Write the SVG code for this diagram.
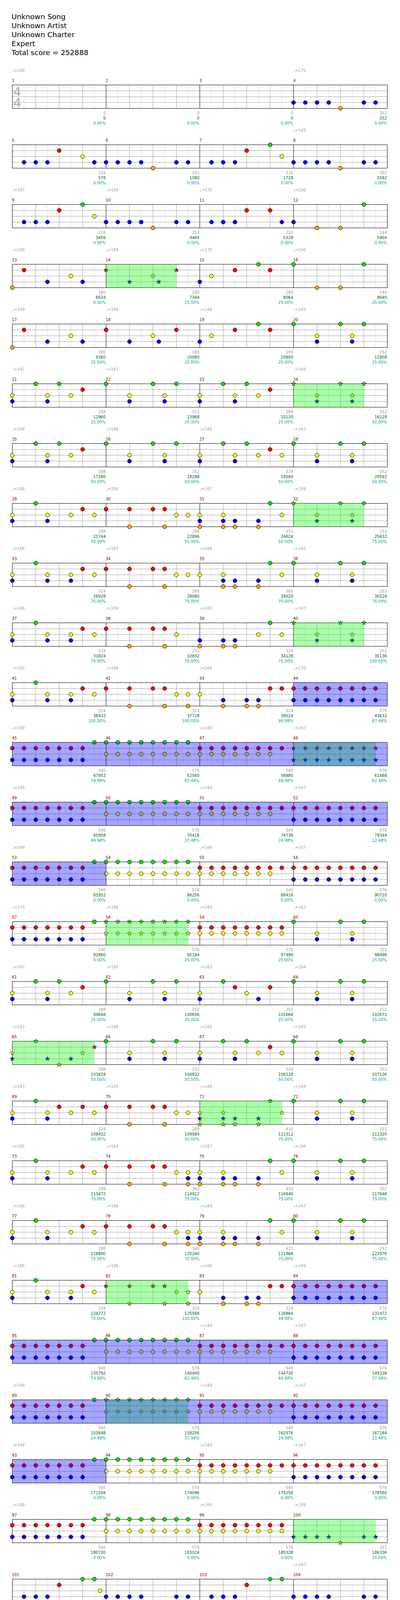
<svg xmlns="http://www.w3.org/2000/svg" width="1024" height="5419" viewBox="0 0 1024 5419">
<style>
text{font-family:"DejaVu Sans","Liberation Sans",sans-serif}
.hd{font-size:18.5px;fill:#000}
.tp{font-size:10px;fill:#a0a0a0}
.mn{font-size:10px;fill:#800000}
.s1,.s2,.s3{font-size:10px;text-anchor:end}
.s1{fill:#999}
.s2{fill:#006400}
.s3{fill:#009c9c}
.ts{font-size:32px;fill:#aaa}
.sp{fill:#00ff00;fill-opacity:.33}
.so{fill:#0000ff;fill-opacity:.35}
.su{fill:#ffff00}
</style>
<defs>
<path id="st" d="M0,-6L1.47,-2.02L5.71,-1.85L2.38,0.77L3.53,4.85L0,2.5L-3.53,4.85L-2.38,0.77L-5.71,-1.85L-1.47,-2.02Z" stroke="#000" stroke-width="0.8"/>
<g id="staff" fill="none">
<path stroke="#dcdcdc" d="M30,0V60M90,0V60M150,0V60M210,0V60M270,0V60M330,0V60M390,0V60M450,0V60M510,0V60M570,0V60M630,0V60M690,0V60M750,0V60M810,0V60M870,0V60M930,0V60"/>
<path stroke="#a0a0a0" d="M0,15H960M0,30H960M0,45H960M60,0V60M120,0V60M180,0V60M300,0V60M360,0V60M420,0V60M540,0V60M600,0V60M660,0V60M780,0V60M840,0V60M900,0V60"/>
<path stroke="#000" d="M240,0V60M480,0V60M720,0V60"/>
<rect width="960" height="60" stroke="#000"/>
</g>
<g id="staff1" fill="none">
<path stroke="#dcdcdc" d="M30,0V60M90,0V60M150,0V60M210,0V60"/>
<path stroke="#a0a0a0" d="M0,15H240M0,30H240M0,45H240M60,0V60M120,0V60M180,0V60"/>
<rect width="240" height="60" stroke="#000"/>
</g>
<g id="R8" fill="#f00" stroke="#000"><circle cx="0" cy="15" r="5"/><circle cx="30" cy="15" r="5"/><circle cx="60" cy="15" r="5"/><circle cx="90" cy="15" r="5"/><circle cx="120" cy="15" r="5"/><circle cx="150" cy="15" r="5"/><circle cx="180" cy="15" r="5"/><circle cx="210" cy="15" r="5"/></g>
<g id="R7" fill="#f00" stroke="#000"><circle cx="0" cy="15" r="5"/><circle cx="30" cy="15" r="5"/><circle cx="60" cy="15" r="5"/><circle cx="90" cy="15" r="5"/><circle cx="120" cy="15" r="5"/><circle cx="150" cy="15" r="5"/><circle cx="180" cy="15" r="5"/></g>
<g id="B8" fill="#00f" stroke="#000"><circle cx="0" cy="45" r="5"/><circle cx="30" cy="45" r="5"/><circle cx="60" cy="45" r="5"/><circle cx="90" cy="45" r="5"/><circle cx="120" cy="45" r="5"/><circle cx="150" cy="45" r="5"/><circle cx="180" cy="45" r="5"/><circle cx="210" cy="45" r="5"/></g>
<g id="B7" fill="#00f" stroke="#000"><circle cx="0" cy="45" r="5"/><circle cx="30" cy="45" r="5"/><circle cx="60" cy="45" r="5"/><circle cx="90" cy="45" r="5"/><circle cx="120" cy="45" r="5"/><circle cx="150" cy="45" r="5"/><circle cx="180" cy="45" r="5"/></g>
<g id="Y8" fill="#ff0" stroke="#000"><circle cx="0" cy="30" r="5"/><circle cx="30" cy="30" r="5"/><circle cx="60" cy="30" r="5"/><circle cx="90" cy="30" r="5"/><circle cx="120" cy="30" r="5"/><circle cx="150" cy="30" r="5"/><circle cx="180" cy="30" r="5"/><circle cx="210" cy="30" r="5"/></g>
<g id="Y7" fill="#ff0" stroke="#000"><circle cx="0" cy="30" r="5"/><circle cx="30" cy="30" r="5"/><circle cx="60" cy="30" r="5"/><circle cx="90" cy="30" r="5"/><circle cx="120" cy="30" r="5"/><circle cx="150" cy="30" r="5"/><circle cx="180" cy="30" r="5"/></g>
<g id="G8" fill="#00e000" stroke="#000"><circle cx="0" cy="0" r="5"/><circle cx="30" cy="0" r="5"/><circle cx="60" cy="0" r="5"/><circle cx="90" cy="0" r="5"/><circle cx="120" cy="0" r="5"/><circle cx="150" cy="0" r="5"/><circle cx="180" cy="0" r="5"/><circle cx="210" cy="0" r="5"/></g>
<g id="sR8" fill="#f00"><use href="#st" x="0" y="15"/><use href="#st" x="30" y="15"/><use href="#st" x="60" y="15"/><use href="#st" x="90" y="15"/><use href="#st" x="120" y="15"/><use href="#st" x="150" y="15"/><use href="#st" x="180" y="15"/><use href="#st" x="210" y="15"/></g>
<g id="sB8" fill="#00f"><use href="#st" x="0" y="45"/><use href="#st" x="30" y="45"/><use href="#st" x="60" y="45"/><use href="#st" x="90" y="45"/><use href="#st" x="120" y="45"/><use href="#st" x="150" y="45"/><use href="#st" x="180" y="45"/><use href="#st" x="210" y="45"/></g>
<g id="sG8" fill="#00e000"><use href="#st" x="0" y="0"/><use href="#st" x="30" y="0"/><use href="#st" x="60" y="0"/><use href="#st" x="90" y="0"/><use href="#st" x="120" y="0"/><use href="#st" x="150" y="0"/><use href="#st" x="180" y="0"/><use href="#st" x="210" y="0"/></g>
<g id="sY8" fill="#ff0"><use href="#st" x="0" y="30"/><use href="#st" x="30" y="30"/><use href="#st" x="60" y="30"/><use href="#st" x="90" y="30"/><use href="#st" x="120" y="30"/><use href="#st" x="150" y="30"/><use href="#st" x="180" y="30"/><use href="#st" x="210" y="30"/></g>
<g id="pN"><use href="#R8"/><use href="#B8"/></g>
<g id="pO"><use href="#R7"/><use href="#B7"/><circle cx="210" cy="0" r="5" fill="#00e000" stroke="#000"/></g>
<g id="pP"><use href="#G8"/><use href="#Y8"/></g>
<g id="pQ"><use href="#R8"/><use href="#Y7"/></g>
<g id="pR"><use href="#R8"/><use href="#Y8"/></g>
<g id="sN"><use href="#sR8"/><use href="#sB8"/></g>
<g id="sP"><use href="#sG8"/><use href="#sY8"/></g>
<g id="pA" stroke="#000"><g fill="#00f"><circle cx="0" cy="45" r="5"/><circle cx="30" cy="45" r="5"/><circle cx="60" cy="45" r="5"/><circle cx="90" cy="45" r="5"/><circle cx="180" cy="45" r="5"/><circle cx="210" cy="45" r="5"/></g><circle cx="120" cy="60" r="5" fill="#ffa500"/></g>
<g id="sA"><g fill="#00f"><use href="#st" x="0" y="45"/><use href="#st" x="30" y="45"/><use href="#st" x="60" y="45"/><use href="#st" x="90" y="45"/><use href="#st" x="180" y="45"/><use href="#st" x="210" y="45"/></g><use href="#st" x="120" y="60" fill="#ffa500"/></g>
<g id="p5" stroke="#000"><g fill="#00f"><circle cx="30" cy="45" r="5"/><circle cx="60" cy="45" r="5"/><circle cx="90" cy="45" r="5"/><circle cx="210" cy="45" r="5"/></g><circle cx="120" cy="15" r="5" fill="#f00"/><circle cx="180" cy="30" r="5" fill="#ff0"/></g>
<g id="pC" stroke="#000"><g fill="#00f"><circle cx="30" cy="45" r="5"/><circle cx="60" cy="45" r="5"/><circle cx="90" cy="45" r="5"/></g><circle cx="120" cy="15" r="5" fill="#f00"/><circle cx="180" cy="0" r="5" fill="#00e000"/><circle cx="210" cy="30" r="5" fill="#ff0"/></g>
<g id="p11" stroke="#000"><g fill="#00f"><circle cx="30" cy="45" r="5"/><circle cx="60" cy="45" r="5"/><circle cx="90" cy="45" r="5"/><circle cx="210" cy="45" r="5"/></g><g fill="#f00"><circle cx="120" cy="15" r="5"/><circle cx="180" cy="15" r="5"/></g></g>
<g id="p12" stroke="#000"><circle cx="0" cy="45" r="5" fill="#00f"/><g fill="#ffa500"><circle cx="60" cy="60" r="5"/><circle cx="120" cy="60" r="5"/></g><circle cx="180" cy="0" r="5" fill="#00e000"/></g>
<g id="p16" stroke="#000"><g fill="#00e000"><circle cx="0" cy="0" r="5"/><circle cx="180" cy="0" r="5"/></g><g fill="#ffa500"><circle cx="60" cy="60" r="5"/><circle cx="120" cy="60" r="5"/></g></g>
<g id="pE" stroke="#000"><circle cx="0" cy="60" r="5" fill="#ffa500"/><circle cx="30" cy="15" r="5" fill="#f00"/><g fill="#00f"><circle cx="90" cy="45" r="5"/><circle cx="180" cy="45" r="5"/></g><circle cx="150" cy="30" r="5" fill="#ff0"/></g>
<g id="sE"><use href="#st" x="0" y="60" fill="#ffa500"/><use href="#st" x="30" y="15" fill="#f00"/><g fill="#00f"><use href="#st" x="90" y="45"/><use href="#st" x="180" y="45"/></g><use href="#st" x="150" y="30" fill="#ff0"/></g>
<g id="pF" stroke="#000"><g fill="#f00"><circle cx="0" cy="15" r="5"/><circle cx="180" cy="15" r="5"/></g><g fill="#00f"><circle cx="60" cy="45" r="5"/><circle cx="135" cy="45" r="5"/></g><circle cx="120" cy="30" r="5" fill="#ff0"/></g>
<g id="sF"><g fill="#f00"><use href="#st" x="0" y="15"/><use href="#st" x="180" y="15"/></g><g fill="#00f"><use href="#st" x="60" y="45"/><use href="#st" x="135" y="45"/></g><use href="#st" x="120" y="30" fill="#ff0"/></g>
<g id="pG" stroke="#000"><circle cx="0" cy="45" r="5" fill="#00f"/><circle cx="30" cy="30" r="5" fill="#ff0"/><g fill="#f00"><circle cx="90" cy="15" r="5"/><circle cx="180" cy="15" r="5"/></g><circle cx="150" cy="0" r="5" fill="#00e000"/></g>
<g id="pH" stroke="#000"><g fill="#00e000"><circle cx="0" cy="0" r="5"/><circle cx="120" cy="0" r="5"/><circle cx="180" cy="0" r="5"/></g><g fill="#ff0"><circle cx="60" cy="30" r="5"/><circle cx="150" cy="30" r="5"/></g><g fill="#00f"><circle cx="60" cy="45" r="5"/><circle cx="150" cy="45" r="5"/></g></g>
<g id="sH"><g fill="#00e000"><use href="#st" x="0" y="0"/><use href="#st" x="120" y="0"/><use href="#st" x="180" y="0"/></g><g fill="#ff0"><use href="#st" x="60" y="30"/><use href="#st" x="150" y="30"/></g><g fill="#00f"><use href="#st" x="60" y="45"/><use href="#st" x="150" y="45"/></g></g>
<g id="pI" stroke="#000"><g fill="#ff0"><circle cx="0" cy="30" r="5"/><circle cx="90" cy="30" r="5"/><circle cx="150" cy="30" r="5"/></g><g fill="#00f"><circle cx="0" cy="45" r="5"/><circle cx="90" cy="45" r="5"/></g><g fill="#00e000"><circle cx="60" cy="0" r="5"/><circle cx="120" cy="0" r="5"/></g><circle cx="180" cy="15" r="5" fill="#f00"/></g>
<g id="pJ"><use href="#pI"/><circle cx="210" cy="30" r="5" fill="#ff0" stroke="#000"/></g>
<g id="pK" stroke="#000"><circle cx="60" cy="0" r="5" fill="#00e000"/><circle cx="180" cy="15" r="5" fill="#f00"/><g fill="#ff0"><circle cx="0" cy="30" r="5"/><circle cx="90" cy="30" r="5"/><circle cx="150" cy="30" r="5"/><circle cx="210" cy="30" r="5"/></g><g fill="#00f"><circle cx="0" cy="45" r="5"/><circle cx="90" cy="45" r="5"/></g></g>
<g id="p69"><use href="#pK"/><circle cx="120" cy="15" r="5" fill="#f00" stroke="#000"/></g>
<g id="pK2"><use href="#pK"/><circle cx="150" cy="45" r="5" fill="#00f" stroke="#000"/></g>
<g id="p38" stroke="#000"><g fill="#f00"><circle cx="0" cy="15" r="5"/><circle cx="60" cy="15" r="5"/><circle cx="120" cy="15" r="5"/><circle cx="150" cy="15" r="5"/></g><circle cx="180" cy="30" r="5" fill="#ff0"/><g fill="#ffa500"><circle cx="60" cy="60" r="5"/><circle cx="150" cy="60" r="5"/></g></g>
<g id="pL"><use href="#p38"/><circle cx="210" cy="30" r="5" fill="#ff0" stroke="#000"/></g>
<g id="pL2"><use href="#pL"/><circle cx="210" cy="60" r="5" fill="#ffa500" stroke="#000"/></g>
<g id="pL3"><use href="#pL2"/><circle cx="210" cy="45" r="5" fill="#00f" stroke="#000"/></g>
<g id="sL2"><g fill="#f00"><use href="#st" x="0" y="15"/><use href="#st" x="60" y="15"/><use href="#st" x="120" y="15"/><use href="#st" x="150" y="15"/></g><g fill="#ff0"><use href="#st" x="180" y="30"/><use href="#st" x="210" y="30"/></g><g fill="#ffa500"><use href="#st" x="60" y="60"/><use href="#st" x="150" y="60"/><use href="#st" x="210" y="60"/></g></g>
<g id="p35" stroke="#000"><g fill="#ff0"><circle cx="0" cy="30" r="5"/><circle cx="60" cy="30" r="5"/><circle cx="210" cy="30" r="5"/></g><g fill="#00f"><circle cx="60" cy="45" r="5"/><circle cx="90" cy="45" r="5"/><circle cx="150" cy="45" r="5"/></g><g fill="#ffa500"><circle cx="60" cy="60" r="5"/><circle cx="90" cy="60" r="5"/><circle cx="150" cy="60" r="5"/></g><circle cx="180" cy="0" r="5" fill="#00e000"/></g>
<g id="pM"><use href="#p35"/><circle cx="0" cy="45" r="5" fill="#00f" stroke="#000"/><circle cx="0" cy="60" r="5" fill="#ffa500" stroke="#000"/></g>
<g id="sM"><g fill="#ff0"><use href="#st" x="0" y="30"/><use href="#st" x="60" y="30"/><use href="#st" x="210" y="30"/></g><g fill="#00f"><use href="#st" x="0" y="45"/><use href="#st" x="60" y="45"/><use href="#st" x="90" y="45"/><use href="#st" x="150" y="45"/></g><g fill="#ffa500"><use href="#st" x="0" y="60"/><use href="#st" x="60" y="60"/><use href="#st" x="90" y="60"/><use href="#st" x="150" y="60"/></g><use href="#st" x="180" y="0" fill="#00e000"/></g>
<g id="p39" stroke="#000"><g fill="#00f"><circle cx="0" cy="45" r="5"/><circle cx="60" cy="45" r="5"/><circle cx="90" cy="45" r="5"/></g><g fill="#ffa500"><circle cx="0" cy="60" r="5"/><circle cx="60" cy="60" r="5"/><circle cx="90" cy="60" r="5"/></g><g fill="#ff0"><circle cx="150" cy="30" r="5"/><circle cx="210" cy="30" r="5"/></g><circle cx="180" cy="0" r="5" fill="#00e000"/></g>
<g id="p43" stroke="#000"><circle cx="0" cy="30" r="5" fill="#ff0"/><g fill="#00f"><circle cx="60" cy="45" r="5"/><circle cx="120" cy="45" r="5"/><circle cx="150" cy="45" r="5"/></g><g fill="#ffa500"><circle cx="60" cy="60" r="5"/><circle cx="120" cy="60" r="5"/><circle cx="150" cy="60" r="5"/></g><g fill="#f00"><circle cx="180" cy="15" r="5"/><circle cx="210" cy="15" r="5"/></g></g>
<g id="p63" stroke="#000"><circle cx="60" cy="0" r="5" fill="#00e000"/><g fill="#f00"><circle cx="90" cy="15" r="5"/><circle cx="180" cy="15" r="5"/></g><g fill="#ff0"><circle cx="0" cy="30" r="5"/><circle cx="120" cy="30" r="5"/></g><g fill="#00f"><circle cx="0" cy="45" r="5"/><circle cx="150" cy="45" r="5"/></g></g>
<g id="s65"><use href="#st" x="60" y="0" fill="#00e000"/><g fill="#ff0"><use href="#st" x="0" y="30"/><use href="#st" x="180" y="30"/></g><g fill="#00f"><use href="#st" x="0" y="45"/><use href="#st" x="90" y="45"/><use href="#st" x="150" y="45"/></g><use href="#st" x="120" y="60" fill="#ffa500"/><use href="#st" x="210" y="15" fill="#f00"/></g>
<g id="p103" stroke="#000"><g fill="#00f"><circle cx="30" cy="45" r="5"/><circle cx="60" cy="45" r="5"/><circle cx="90" cy="45" r="5"/></g><circle cx="120" cy="15" r="5" fill="#f00"/><g fill="#00e000"><circle cx="180" cy="0" r="5"/><circle cx="210" cy="0" r="5"/></g></g>
<g id="p101"><use href="#p103"/><circle cx="225" cy="30" r="5" fill="#ff0" stroke="#000"/></g>
<g id="p107" stroke="#000"><g fill="#00f"><circle cx="30" cy="45" r="5"/><circle cx="60" cy="45" r="5"/><circle cx="90" cy="45" r="5"/><circle cx="210" cy="45" r="5"/></g><circle cx="120" cy="15" r="5" fill="#f00"/><circle cx="180" cy="0" r="5" fill="#00e000"/></g>
</defs>
<rect width="1024" height="5419" fill="#fff"/>
<g id="header">
<text class="hd" x="29.5" y="49">Unknown Song</text>
<text class="hd" x="29.5" y="72">Unknown Artist</text>
<text class="hd" x="29.5" y="95">Unknown Charter</text>
<text class="hd" x="29.5" y="118">Expert</text>
<text class="hd" x="29.5" y="141">Total score = 252888</text>
</g>
<g id="row1" transform="translate(0,217.5)">
<use href="#staff" x="31.5"/>
<text class="ts"><tspan x="34" y="28">4</tspan><tspan x="34" y="56.5">4</tspan></text>
<use href="#pA" x="751.5"/>
<text class="tp" x="31" y="-34">♩=168</text><text class="tp" x="751" y="-34">♩=170</text>
<text class="mn" x="30.5" y="-8">1</text><text class="mn" x="270.5" y="-8">2</text><text class="mn" x="510.5" y="-8">3</text><text class="mn" x="750.5" y="-8">4</text>
<text class="s1" x="270.5" y="75">0</text><text class="s2" x="270.5" y="88">0</text><text class="s3" x="270.5" y="101">0.00%</text>
<text class="s1" x="510.5" y="75">0</text><text class="s2" x="510.5" y="88">0</text><text class="s3" x="510.5" y="101">0.00%</text>
<text class="s1" x="750.5" y="75">0</text><text class="s2" x="750.5" y="88">0</text><text class="s3" x="750.5" y="101">0.00%</text>
<text class="s1" x="990.5" y="75">252</text><text class="s2" x="990.5" y="88">252</text><text class="s3" x="990.5" y="101">0.00%</text>
</g>
<g id="row2" transform="translate(0,370.5)">
<use href="#staff" x="31.5"/>
<use href="#p5" x="31.5"/><use href="#pA" x="271.5"/><use href="#pC" x="511.5"/><use href="#pA" x="751.5"/>
<text class="tp" x="751" y="-34">♩=165</text>
<text class="mn" x="30.5" y="-8">5</text><text class="mn" x="270.5" y="-8">6</text><text class="mn" x="510.5" y="-8">7</text><text class="mn" x="750.5" y="-8">8</text>
<text class="s1" x="270.5" y="75">216</text><text class="s2" x="270.5" y="88">576</text><text class="s3" x="270.5" y="101">0.00%</text>
<text class="s1" x="510.5" y="75">252</text><text class="s2" x="510.5" y="88">1080</text><text class="s3" x="510.5" y="101">0.00%</text>
<text class="s1" x="750.5" y="75">216</text><text class="s2" x="750.5" y="88">1728</text><text class="s3" x="750.5" y="101">0.00%</text>
<text class="s1" x="990.5" y="75">252</text><text class="s2" x="990.5" y="88">2592</text><text class="s3" x="990.5" y="101">0.00%</text>
</g>
<g id="row3" transform="translate(0,523.5)">
<use href="#staff" x="31.5"/>
<use href="#pC" x="31.5"/><use href="#pA" x="271.5"/><use href="#p11" x="511.5"/><use href="#p12" x="751.5"/>
<text class="tp" x="31" y="-34">♩=167</text><text class="tp" x="271" y="-34">♩=169</text><text class="tp" x="511" y="-34">♩=170</text><text class="tp" x="751" y="-34">♩=168</text>
<text class="mn" x="30.5" y="-8">9</text><text class="mn" x="270.5" y="-8">10</text><text class="mn" x="510.5" y="-8">11</text><text class="mn" x="750.5" y="-8">12</text>
<text class="s1" x="270.5" y="75">216</text><text class="s2" x="270.5" y="88">3456</text><text class="s3" x="270.5" y="101">0.00%</text>
<text class="s1" x="510.5" y="75">252</text><text class="s2" x="510.5" y="88">4464</text><text class="s3" x="510.5" y="101">0.00%</text>
<text class="s1" x="750.5" y="75">216</text><text class="s2" x="750.5" y="88">5328</text><text class="s3" x="750.5" y="101">0.00%</text>
<text class="s1" x="990.5" y="75">144</text><text class="s2" x="990.5" y="88">5904</text><text class="s3" x="990.5" y="101">0.00%</text>
</g>
<g id="row4" transform="translate(0,676.5)">
<use href="#staff" x="31.5"/>
<use href="#pE" x="31.5"/><use href="#sF" x="271.5"/><use href="#pG" x="511.5"/><use href="#p16" x="751.5"/>
<rect class="sp" x="271.5" width="180" height="60"/>
<text class="tp" x="31" y="-34">♩=169</text><text class="tp" x="271" y="-34">♩=169</text><text class="tp" x="511" y="-34">♩=170</text><text class="tp" x="751" y="-34">♩=166</text>
<text class="mn" x="30.5" y="-8">13</text><text class="mn" x="270.5" y="-8">14</text><text class="mn" x="510.5" y="-8">15</text><text class="mn" x="750.5" y="-8">16</text>
<text class="s1" x="270.5" y="75">180</text><text class="s2" x="270.5" y="88">6624</text><text class="s3" x="270.5" y="101">0.00%</text>
<text class="s1" x="510.5" y="75">180</text><text class="s2" x="510.5" y="88">7344</text><text class="s3" x="510.5" y="101">25.00%</text>
<text class="s1" x="750.5" y="75">180</text><text class="s2" x="750.5" y="88">8064</text><text class="s3" x="750.5" y="101">25.00%</text>
<text class="s1" x="990.5" y="75">144</text><text class="s2" x="990.5" y="88">8640</text><text class="s3" x="990.5" y="101">25.00%</text>
</g>
<g id="row5" transform="translate(0,829.5)">
<use href="#staff" x="31.5"/>
<use href="#pE" x="31.5"/><use href="#pF" x="271.5"/><use href="#pG" x="511.5"/><use href="#pH" x="751.5"/>
<text class="tp" x="31" y="-34">♩=169</text><text class="tp" x="271" y="-34">♩=169</text><text class="tp" x="511" y="-34">♩=166</text><text class="tp" x="751" y="-34">♩=165</text>
<text class="mn" x="30.5" y="-8">17</text><text class="mn" x="270.5" y="-8">18</text><text class="mn" x="510.5" y="-8">19</text><text class="mn" x="750.5" y="-8">20</text>
<text class="s1" x="270.5" y="75">180</text><text class="s2" x="270.5" y="88">9360</text><text class="s3" x="270.5" y="101">25.00%</text>
<text class="s1" x="510.5" y="75">180</text><text class="s2" x="510.5" y="88">10080</text><text class="s3" x="510.5" y="101">25.00%</text>
<text class="s1" x="750.5" y="75">180</text><text class="s2" x="750.5" y="88">10800</text><text class="s3" x="750.5" y="101">25.00%</text>
<text class="s1" x="990.5" y="75">252</text><text class="s2" x="990.5" y="88">11808</text><text class="s3" x="990.5" y="101">25.00%</text>
</g>
<g id="row6" transform="translate(0,982.5)">
<use href="#staff" x="31.5"/>
<use href="#pI" x="31.5"/><use href="#pH" x="271.5"/><use href="#pI" x="511.5"/><use href="#sH" x="751.5"/>
<rect class="sp" x="751.5" width="180" height="60"/>
<text class="tp" x="31" y="-34">♩=167</text><text class="tp" x="271" y="-34">♩=167</text><text class="tp" x="751" y="-34">♩=166</text>
<text class="mn" x="30.5" y="-8">21</text><text class="mn" x="270.5" y="-8">22</text><text class="mn" x="510.5" y="-8">23</text><text class="mn" x="750.5" y="-8">24</text>
<text class="s1" x="270.5" y="75">288</text><text class="s2" x="270.5" y="88">12960</text><text class="s3" x="270.5" y="101">25.00%</text>
<text class="s1" x="510.5" y="75">252</text><text class="s2" x="510.5" y="88">13968</text><text class="s3" x="510.5" y="101">25.00%</text>
<text class="s1" x="750.5" y="75">288</text><text class="s2" x="750.5" y="88">15120</text><text class="s3" x="750.5" y="101">25.00%</text>
<text class="s1" x="990.5" y="75">252</text><text class="s2" x="990.5" y="88">16128</text><text class="s3" x="990.5" y="101">50.00%</text>
</g>
<g id="row7" transform="translate(0,1135.5)">
<use href="#staff" x="31.5"/>
<use href="#pI" x="31.5"/><use href="#pH" x="271.5"/><use href="#pJ" x="511.5"/><use href="#pH" x="751.5"/>
<text class="tp" x="31" y="-34">♩=168</text><text class="tp" x="271" y="-34">♩=166</text><text class="tp" x="511" y="-34">♩=166</text><text class="tp" x="751" y="-34">♩=163</text>
<text class="mn" x="30.5" y="-8">25</text><text class="mn" x="270.5" y="-8">26</text><text class="mn" x="510.5" y="-8">27</text><text class="mn" x="750.5" y="-8">28</text>
<text class="s1" x="270.5" y="75">288</text><text class="s2" x="270.5" y="88">17280</text><text class="s3" x="270.5" y="101">50.00%</text>
<text class="s1" x="510.5" y="75">252</text><text class="s2" x="510.5" y="88">18288</text><text class="s3" x="510.5" y="101">50.00%</text>
<text class="s1" x="750.5" y="75">324</text><text class="s2" x="750.5" y="88">19584</text><text class="s3" x="750.5" y="101">50.00%</text>
<text class="s1" x="990.5" y="75">252</text><text class="s2" x="990.5" y="88">20592</text><text class="s3" x="990.5" y="101">50.00%</text>
</g>
<g id="row8" transform="translate(0,1288.5)">
<use href="#staff" x="31.5"/>
<use href="#pK" x="31.5"/><use href="#pL" x="271.5"/><use href="#pM" x="511.5"/><use href="#sH" x="751.5"/>
<rect class="sp" x="751.5" width="180" height="60"/>
<text class="tp" x="31" y="-34">♩=166</text><text class="tp" x="271" y="-34">♩=164</text><text class="tp" x="511" y="-34">♩=167</text><text class="tp" x="751" y="-34">♩=169</text>
<text class="mn" x="30.5" y="-8">29</text><text class="mn" x="270.5" y="-8">30</text><text class="mn" x="510.5" y="-8">31</text><text class="mn" x="750.5" y="-8">32</text>
<text class="s1" x="270.5" y="75">288</text><text class="s2" x="270.5" y="88">21744</text><text class="s3" x="270.5" y="101">50.00%</text>
<text class="s1" x="510.5" y="75">288</text><text class="s2" x="510.5" y="88">22896</text><text class="s3" x="510.5" y="101">50.00%</text>
<text class="s1" x="750.5" y="75">432</text><text class="s2" x="750.5" y="88">24624</text><text class="s3" x="750.5" y="101">50.00%</text>
<text class="s1" x="990.5" y="75">252</text><text class="s2" x="990.5" y="88">25632</text><text class="s3" x="990.5" y="101">75.00%</text>
</g>
<g id="row9" transform="translate(0,1441.5)">
<use href="#staff" x="31.5"/>
<use href="#pK2" x="31.5"/><use href="#pL" x="271.5"/><use href="#p35" x="511.5"/><use href="#pH" x="751.5"/>
<text class="tp" x="31" y="-34">♩=166</text><text class="tp" x="271" y="-34">♩=167</text><text class="tp" x="511" y="-34">♩=166</text><text class="tp" x="751" y="-34">♩=165</text>
<text class="mn" x="30.5" y="-8">33</text><text class="mn" x="270.5" y="-8">34</text><text class="mn" x="510.5" y="-8">35</text><text class="mn" x="750.5" y="-8">36</text>
<text class="s1" x="270.5" y="75">324</text><text class="s2" x="270.5" y="88">26928</text><text class="s3" x="270.5" y="101">75.00%</text>
<text class="s1" x="510.5" y="75">288</text><text class="s2" x="510.5" y="88">28080</text><text class="s3" x="510.5" y="101">75.00%</text>
<text class="s1" x="750.5" y="75">360</text><text class="s2" x="750.5" y="88">29520</text><text class="s3" x="750.5" y="101">75.00%</text>
<text class="s1" x="990.5" y="75">252</text><text class="s2" x="990.5" y="88">30528</text><text class="s3" x="990.5" y="101">75.00%</text>
</g>
<g id="row10" transform="translate(0,1594.5)">
<use href="#staff" x="31.5"/>
<use href="#pK2" x="31.5"/><use href="#p38" x="271.5"/><use href="#p39" x="511.5"/><use href="#sH" x="751.5"/>
<rect class="sp" x="751.5" width="180" height="60"/>
<text class="tp" x="31" y="-34">♩=166</text><text class="tp" x="271" y="-34">♩=169</text><text class="tp" x="511" y="-34">♩=165</text><text class="tp" x="751" y="-34">♩=167</text>
<text class="mn" x="30.5" y="-8">37</text><text class="mn" x="270.5" y="-8">38</text><text class="mn" x="510.5" y="-8">39</text><text class="mn" x="750.5" y="-8">40</text>
<text class="s1" x="270.5" y="75">324</text><text class="s2" x="270.5" y="88">31824</text><text class="s3" x="270.5" y="101">75.00%</text>
<text class="s1" x="510.5" y="75">252</text><text class="s2" x="510.5" y="88">32832</text><text class="s3" x="510.5" y="101">75.00%</text>
<text class="s1" x="750.5" y="75">324</text><text class="s2" x="750.5" y="88">34128</text><text class="s3" x="750.5" y="101">75.00%</text>
<text class="s1" x="990.5" y="75">252</text><text class="s2" x="990.5" y="88">35136</text><text class="s3" x="990.5" y="101">100.00%</text>
</g>
<g id="row11" transform="translate(0,1747.5)">
<use href="#staff" x="31.5"/>
<use href="#pK2" x="31.5"/><use href="#pL2" x="271.5"/><use href="#p43" x="511.5"/><use href="#pN" x="751.5"/>
<rect class="so" x="751.5" width="240" height="60"/>
<text class="tp" x="31" y="-34">♩=165</text><text class="tp" x="271" y="-34">♩=166</text><text class="tp" x="511" y="-34">♩=166</text><text class="tp" x="751" y="-34">♩=170</text>
<text class="mn" x="30.5" y="-8">41</text><text class="mn" x="270.5" y="-8">42</text><text class="mn" x="510.5" y="-8">43</text><text class="mn" x="750.5" y="-8">44</text>
<text class="s1" x="270.5" y="75">324</text><text class="s2" x="270.5" y="88">36432</text><text class="s3" x="270.5" y="101">100.00%</text>
<text class="s1" x="510.5" y="75">324</text><text class="s2" x="510.5" y="88">37728</text><text class="s3" x="510.5" y="101">100.00%</text>
<text class="s1" x="750.5" y="75">324</text><text class="s2" x="750.5" y="88">39024</text><text class="s3" x="750.5" y="101">99.98%</text>
<text class="s1" x="990.5" y="75">576</text><text class="s2" x="990.5" y="88">43632</text><text class="s3" x="990.5" y="101">87.48%</text>
</g>
<g id="row12" transform="translate(0,1900.5)">
<use href="#staff" x="31.5"/>
<use href="#pO" x="31.5"/><use href="#pP" x="271.5"/><use href="#pQ" x="511.5"/><use href="#sN" x="751.5"/>
<rect class="sp" x="751.5" width="210" height="60"/>
<rect class="so" x="31.5" width="960" height="60"/>
<text class="tp" x="31" y="-34">♩=169</text><text class="tp" x="511" y="-34">♩=169</text><text class="tp" x="751" y="-34">♩=167</text>
<text class="mn" x="30.5" y="-8">45</text><text class="mn" x="270.5" y="-8">46</text><text class="mn" x="510.5" y="-8">47</text><text class="mn" x="750.5" y="-8">48</text>
<text class="s1" x="270.5" y="75">540</text><text class="s2" x="270.5" y="88">47952</text><text class="s3" x="270.5" y="101">74.98%</text>
<text class="s1" x="510.5" y="75">576</text><text class="s2" x="510.5" y="88">52560</text><text class="s3" x="510.5" y="101">62.48%</text>
<text class="s1" x="750.5" y="75">540</text><text class="s2" x="750.5" y="88">56880</text><text class="s3" x="750.5" y="101">49.98%</text>
<text class="s1" x="990.5" y="75">576</text><text class="s2" x="990.5" y="88">61488</text><text class="s3" x="990.5" y="101">62.48%</text>
</g>
<g id="row13" transform="translate(0,2053.5)">
<use href="#staff" x="31.5"/>
<use href="#pO" x="31.5"/><use href="#pP" x="271.5"/><use href="#pQ" x="511.5"/><use href="#pN" x="751.5"/>
<rect class="so" x="31.5" width="960" height="60"/>
<text class="tp" x="31" y="-34">♩=169</text><text class="tp" x="511" y="-34">♩=169</text><text class="tp" x="751" y="-34">♩=167</text>
<text class="mn" x="30.5" y="-8">49</text><text class="mn" x="270.5" y="-8">50</text><text class="mn" x="510.5" y="-8">51</text><text class="mn" x="750.5" y="-8">52</text>
<text class="s1" x="270.5" y="75">540</text><text class="s2" x="270.5" y="88">65808</text><text class="s3" x="270.5" y="101">49.98%</text>
<text class="s1" x="510.5" y="75">576</text><text class="s2" x="510.5" y="88">70416</text><text class="s3" x="510.5" y="101">37.48%</text>
<text class="s1" x="750.5" y="75">540</text><text class="s2" x="750.5" y="88">74736</text><text class="s3" x="750.5" y="101">24.98%</text>
<text class="s1" x="990.5" y="75">576</text><text class="s2" x="990.5" y="88">79344</text><text class="s3" x="990.5" y="101">12.48%</text>
</g>
<g id="row14" transform="translate(0,2206.5)">
<use href="#staff" x="31.5"/>
<use href="#pO" x="31.5"/><use href="#pP" x="271.5"/><use href="#pQ" x="511.5"/><use href="#pN" x="751.5"/>
<rect class="so" x="31.5" width="240" height="60"/>
<text class="tp" x="31" y="-34">♩=169</text><text class="tp" x="511" y="-34">♩=169</text><text class="tp" x="751" y="-34">♩=167</text>
<text class="mn" x="30.5" y="-8">53</text><text class="mn" x="270.5" y="-8">54</text><text class="mn" x="510.5" y="-8">55</text><text class="mn" x="750.5" y="-8">56</text>
<text class="s1" x="270.5" y="75">540</text><text class="s2" x="270.5" y="88">83952</text><text class="s3" x="270.5" y="101">0.00%</text>
<text class="s1" x="510.5" y="75">576</text><text class="s2" x="510.5" y="88">86256</text><text class="s3" x="510.5" y="101">0.00%</text>
<text class="s1" x="750.5" y="75">540</text><text class="s2" x="750.5" y="88">88416</text><text class="s3" x="750.5" y="101">0.00%</text>
<text class="s1" x="990.5" y="75">576</text><text class="s2" x="990.5" y="88">90720</text><text class="s3" x="990.5" y="101">0.00%</text>
</g>
<g id="row15" transform="translate(0,2359.5)">
<use href="#staff" x="31.5"/>
<use href="#pO" x="31.5"/><use href="#sP" x="271.5"/><use href="#pR" x="511.5"/><use href="#pH" x="751.5"/>
<rect class="sp" x="271.5" width="210" height="60"/>
<text class="tp" x="31" y="-34">♩=170</text><text class="tp" x="271" y="-34">♩=166</text><text class="tp" x="511" y="-34">♩=169</text><text class="tp" x="751" y="-34">♩=162</text>
<text class="mn" x="30.5" y="-8">57</text><text class="mn" x="270.5" y="-8">58</text><text class="mn" x="510.5" y="-8">59</text><text class="mn" x="750.5" y="-8">60</text>
<text class="s1" x="270.5" y="75">540</text><text class="s2" x="270.5" y="88">92880</text><text class="s3" x="270.5" y="101">0.00%</text>
<text class="s1" x="510.5" y="75">576</text><text class="s2" x="510.5" y="88">95184</text><text class="s3" x="510.5" y="101">25.00%</text>
<text class="s1" x="750.5" y="75">576</text><text class="s2" x="750.5" y="88">97488</text><text class="s3" x="750.5" y="101">25.00%</text>
<text class="s1" x="990.5" y="75">252</text><text class="s2" x="990.5" y="88">98496</text><text class="s3" x="990.5" y="101">25.00%</text>
</g>
<g id="row16" transform="translate(0,2512.5)">
<use href="#staff" x="31.5"/>
<use href="#pI" x="31.5"/><use href="#pH" x="271.5"/><use href="#p63" x="511.5"/><use href="#pH" x="751.5"/>
<text class="tp" x="31" y="-34">♩=162</text><text class="tp" x="271" y="-34">♩=165</text><text class="tp" x="511" y="-34">♩=163</text><text class="tp" x="751" y="-34">♩=164</text>
<text class="mn" x="30.5" y="-8">61</text><text class="mn" x="270.5" y="-8">62</text><text class="mn" x="510.5" y="-8">63</text><text class="mn" x="750.5" y="-8">64</text>
<text class="s1" x="270.5" y="75">288</text><text class="s2" x="270.5" y="88">99648</text><text class="s3" x="270.5" y="101">25.00%</text>
<text class="s1" x="510.5" y="75">252</text><text class="s2" x="510.5" y="88">100656</text><text class="s3" x="510.5" y="101">25.00%</text>
<text class="s1" x="750.5" y="75">252</text><text class="s2" x="750.5" y="88">101664</text><text class="s3" x="750.5" y="101">25.00%</text>
<text class="s1" x="990.5" y="75">252</text><text class="s2" x="990.5" y="88">102672</text><text class="s3" x="990.5" y="101">25.00%</text>
</g>
<g id="row17" transform="translate(0,2665.5)">
<use href="#staff" x="31.5"/>
<use href="#s65" x="31.5"/><use href="#pH" x="271.5"/><use href="#pJ" x="511.5"/><use href="#pH" x="751.5"/>
<rect class="sp" x="31.5" width="210" height="60"/>
<text class="tp" x="31" y="-34">♩=163</text><text class="tp" x="271" y="-34">♩=166</text><text class="tp" x="511" y="-34">♩=165</text><text class="tp" x="751" y="-34">♩=163</text>
<text class="mn" x="30.5" y="-8">65</text><text class="mn" x="270.5" y="-8">66</text><text class="mn" x="510.5" y="-8">67</text><text class="mn" x="750.5" y="-8">68</text>
<text class="s1" x="270.5" y="75">288</text><text class="s2" x="270.5" y="88">103824</text><text class="s3" x="270.5" y="101">50.00%</text>
<text class="s1" x="510.5" y="75">252</text><text class="s2" x="510.5" y="88">104832</text><text class="s3" x="510.5" y="101">50.00%</text>
<text class="s1" x="750.5" y="75">324</text><text class="s2" x="750.5" y="88">106128</text><text class="s3" x="750.5" y="101">50.00%</text>
<text class="s1" x="990.5" y="75">252</text><text class="s2" x="990.5" y="88">107136</text><text class="s3" x="990.5" y="101">50.00%</text>
</g>
<g id="row18" transform="translate(0,2818.5)">
<use href="#staff" x="31.5"/>
<use href="#p69" x="31.5"/><use href="#pL" x="271.5"/><use href="#sM" x="511.5"/><use href="#pH" x="751.5"/>
<rect class="sp" x="511.5" width="210" height="60"/>
<text class="tp" x="31" y="-34">♩=163</text><text class="tp" x="271" y="-34">♩=165</text><text class="tp" x="511" y="-34">♩=165</text><text class="tp" x="751" y="-34">♩=164</text>
<text class="mn" x="30.5" y="-8">69</text><text class="mn" x="270.5" y="-8">70</text><text class="mn" x="510.5" y="-8">71</text><text class="mn" x="750.5" y="-8">72</text>
<text class="s1" x="270.5" y="75">324</text><text class="s2" x="270.5" y="88">108432</text><text class="s3" x="270.5" y="101">50.00%</text>
<text class="s1" x="510.5" y="75">288</text><text class="s2" x="510.5" y="88">109584</text><text class="s3" x="510.5" y="101">50.00%</text>
<text class="s1" x="750.5" y="75">432</text><text class="s2" x="750.5" y="88">111312</text><text class="s3" x="750.5" y="101">75.00%</text>
<text class="s1" x="990.5" y="75">252</text><text class="s2" x="990.5" y="88">112320</text><text class="s3" x="990.5" y="101">75.00%</text>
</g>
<g id="row19" transform="translate(0,2971.5)">
<use href="#staff" x="31.5"/>
<use href="#pK" x="31.5"/><use href="#pL3" x="271.5"/><use href="#pM" x="511.5"/><use href="#pH" x="751.5"/>
<text class="tp" x="31" y="-34">♩=165</text><text class="tp" x="271" y="-34">♩=164</text><text class="tp" x="511" y="-34">♩=167</text><text class="tp" x="751" y="-34">♩=164</text>
<text class="mn" x="30.5" y="-8">73</text><text class="mn" x="270.5" y="-8">74</text><text class="mn" x="510.5" y="-8">75</text><text class="mn" x="750.5" y="-8">76</text>
<text class="s1" x="270.5" y="75">288</text><text class="s2" x="270.5" y="88">113472</text><text class="s3" x="270.5" y="101">75.00%</text>
<text class="s1" x="510.5" y="75">360</text><text class="s2" x="510.5" y="88">114912</text><text class="s3" x="510.5" y="101">75.00%</text>
<text class="s1" x="750.5" y="75">432</text><text class="s2" x="750.5" y="88">116640</text><text class="s3" x="750.5" y="101">75.00%</text>
<text class="s1" x="990.5" y="75">252</text><text class="s2" x="990.5" y="88">117648</text><text class="s3" x="990.5" y="101">75.00%</text>
</g>
<g id="row20" transform="translate(0,3124.5)">
<use href="#staff" x="31.5"/>
<use href="#pK" x="31.5"/><use href="#pL3" x="271.5"/><use href="#pM" x="511.5"/><use href="#pH" x="751.5"/>
<text class="tp" x="31" y="-34">♩=166</text><text class="tp" x="271" y="-34">♩=166</text><text class="tp" x="511" y="-34">♩=164</text><text class="tp" x="751" y="-34">♩=167</text>
<text class="mn" x="30.5" y="-8">77</text><text class="mn" x="270.5" y="-8">78</text><text class="mn" x="510.5" y="-8">79</text><text class="mn" x="750.5" y="-8">80</text>
<text class="s1" x="270.5" y="75">288</text><text class="s2" x="270.5" y="88">118800</text><text class="s3" x="270.5" y="101">75.00%</text>
<text class="s1" x="510.5" y="75">360</text><text class="s2" x="510.5" y="88">120240</text><text class="s3" x="510.5" y="101">75.00%</text>
<text class="s1" x="750.5" y="75">432</text><text class="s2" x="750.5" y="88">121968</text><text class="s3" x="750.5" y="101">75.00%</text>
<text class="s1" x="990.5" y="75">252</text><text class="s2" x="990.5" y="88">122976</text><text class="s3" x="990.5" y="101">75.00%</text>
</g>
<g id="row21" transform="translate(0,3277.5)">
<use href="#staff" x="31.5"/>
<use href="#pK2" x="31.5"/><use href="#sL2" x="271.5"/><use href="#p43" x="511.5"/><use href="#pN" x="751.5"/>
<rect class="sp" x="271.5" width="210" height="60"/>
<rect class="so" x="751.5" width="240" height="60"/>
<text class="tp" x="31" y="-34">♩=165</text><text class="tp" x="271" y="-34">♩=166</text><text class="tp" x="511" y="-34">♩=166</text><text class="tp" x="751" y="-34">♩=169</text>
<text class="mn" x="30.5" y="-8">81</text><text class="mn" x="270.5" y="-8">82</text><text class="mn" x="510.5" y="-8">83</text><text class="mn" x="750.5" y="-8">84</text>
<text class="s1" x="270.5" y="75">324</text><text class="s2" x="270.5" y="88">124272</text><text class="s3" x="270.5" y="101">75.00%</text>
<text class="s1" x="510.5" y="75">324</text><text class="s2" x="510.5" y="88">125568</text><text class="s3" x="510.5" y="101">100.00%</text>
<text class="s1" x="750.5" y="75">324</text><text class="s2" x="750.5" y="88">126864</text><text class="s3" x="750.5" y="101">99.98%</text>
<text class="s1" x="990.5" y="75">576</text><text class="s2" x="990.5" y="88">131472</text><text class="s3" x="990.5" y="101">87.48%</text>
</g>
<g id="row22" transform="translate(0,3430.5)">
<use href="#staff" x="31.5"/>
<use href="#pO" x="31.5"/><use href="#pP" x="271.5"/><use href="#pQ" x="511.5"/><use href="#pN" x="751.5"/>
<rect class="so" x="31.5" width="960" height="60"/>
<text class="tp" x="511" y="-34">♩=169</text><text class="tp" x="751" y="-34">♩=167</text>
<text class="mn" x="30.5" y="-8">85</text><text class="mn" x="270.5" y="-8">86</text><text class="mn" x="510.5" y="-8">87</text><text class="mn" x="750.5" y="-8">88</text>
<text class="s1" x="270.5" y="75">540</text><text class="s2" x="270.5" y="88">135792</text><text class="s3" x="270.5" y="101">74.98%</text>
<text class="s1" x="510.5" y="75">576</text><text class="s2" x="510.5" y="88">140400</text><text class="s3" x="510.5" y="101">62.48%</text>
<text class="s1" x="750.5" y="75">540</text><text class="s2" x="750.5" y="88">144720</text><text class="s3" x="750.5" y="101">49.98%</text>
<text class="s1" x="990.5" y="75">576</text><text class="s2" x="990.5" y="88">149328</text><text class="s3" x="990.5" y="101">37.48%</text>
</g>
<g id="row23" transform="translate(0,3583.5)">
<use href="#staff" x="31.5"/>
<use href="#pO" x="31.5"/><use href="#sP" x="271.5"/><use href="#pQ" x="511.5"/><use href="#pN" x="751.5"/>
<rect class="sp" x="271.5" width="210" height="60"/>
<rect class="so" x="31.5" width="960" height="60"/>
<text class="tp" x="31" y="-34">♩=169</text><text class="tp" x="511" y="-34">♩=169</text><text class="tp" x="751" y="-34">♩=167</text>
<text class="mn" x="30.5" y="-8">89</text><text class="mn" x="270.5" y="-8">90</text><text class="mn" x="510.5" y="-8">91</text><text class="mn" x="750.5" y="-8">92</text>
<text class="s1" x="270.5" y="75">540</text><text class="s2" x="270.5" y="88">153648</text><text class="s3" x="270.5" y="101">24.98%</text>
<text class="s1" x="510.5" y="75">576</text><text class="s2" x="510.5" y="88">158256</text><text class="s3" x="510.5" y="101">37.48%</text>
<text class="s1" x="750.5" y="75">540</text><text class="s2" x="750.5" y="88">162576</text><text class="s3" x="750.5" y="101">24.98%</text>
<text class="s1" x="990.5" y="75">576</text><text class="s2" x="990.5" y="88">167184</text><text class="s3" x="990.5" y="101">12.48%</text>
</g>
<g id="row24" transform="translate(0,3736.5)">
<use href="#staff" x="31.5"/>
<use href="#pO" x="31.5"/><use href="#pP" x="271.5"/><use href="#pQ" x="511.5"/><use href="#pN" x="751.5"/>
<rect class="so" x="31.5" width="240" height="60"/>
<text class="tp" x="31" y="-34">♩=169</text><text class="tp" x="511" y="-34">♩=169</text><text class="tp" x="751" y="-34">♩=167</text>
<text class="mn" x="30.5" y="-8">93</text><text class="mn" x="270.5" y="-8">94</text><text class="mn" x="510.5" y="-8">95</text><text class="mn" x="750.5" y="-8">96</text>
<text class="s1" x="270.5" y="75">540</text><text class="s2" x="270.5" y="88">171504</text><text class="s3" x="270.5" y="101">0.00%</text>
<text class="s1" x="510.5" y="75">576</text><text class="s2" x="510.5" y="88">174096</text><text class="s3" x="510.5" y="101">0.00%</text>
<text class="s1" x="750.5" y="75">540</text><text class="s2" x="750.5" y="88">176256</text><text class="s3" x="750.5" y="101">0.00%</text>
<text class="s1" x="990.5" y="75">576</text><text class="s2" x="990.5" y="88">178560</text><text class="s3" x="990.5" y="101">0.00%</text>
</g>
<g id="row25" transform="translate(0,3889.5)">
<use href="#staff" x="31.5"/>
<use href="#pO" x="31.5"/><use href="#pP" x="271.5"/><use href="#pR" x="511.5"/><use href="#sA" x="751.5"/>
<rect class="sp" x="751.5" width="210" height="60"/>
<text class="tp" x="31" y="-34">♩=168</text><text class="tp" x="511" y="-34">♩=169</text><text class="tp" x="751" y="-34">♩=169</text>
<text class="mn" x="30.5" y="-8">97</text><text class="mn" x="270.5" y="-8">98</text><text class="mn" x="510.5" y="-8">99</text><text class="mn" x="750.5" y="-8">100</text>
<text class="s1" x="270.5" y="75">540</text><text class="s2" x="270.5" y="88">180720</text><text class="s3" x="270.5" y="101">0.00%</text>
<text class="s1" x="510.5" y="75">576</text><text class="s2" x="510.5" y="88">183024</text><text class="s3" x="510.5" y="101">0.00%</text>
<text class="s1" x="750.5" y="75">576</text><text class="s2" x="750.5" y="88">185328</text><text class="s3" x="750.5" y="101">0.00%</text>
<text class="s1" x="990.5" y="75">252</text><text class="s2" x="990.5" y="88">186336</text><text class="s3" x="990.5" y="101">25.00%</text>
</g>
<g id="row26" transform="translate(0,4042.5)">
<use href="#staff" x="31.5"/>
<use href="#p101" x="31.5"/><use href="#pA" x="271.5"/><use href="#p103" x="511.5"/><use href="#pA" x="751.5"/>
<text class="tp" x="751" y="-34">♩=167</text>
<text class="mn" x="30.5" y="-8">101</text><text class="mn" x="270.5" y="-8">102</text><text class="mn" x="510.5" y="-8">103</text><text class="mn" x="750.5" y="-8">104</text>
<text class="s1" x="270.5" y="75">252</text><text class="s2" x="270.5" y="88">187344</text><text class="s3" x="270.5" y="101">25.00%</text>
<text class="s1" x="510.5" y="75">252</text><text class="s2" x="510.5" y="88">188352</text><text class="s3" x="510.5" y="101">25.00%</text>
<text class="s1" x="750.5" y="75">216</text><text class="s2" x="750.5" y="88">189216</text><text class="s3" x="750.5" y="101">25.00%</text>
<text class="s1" x="990.5" y="75">252</text><text class="s2" x="990.5" y="88">190224</text><text class="s3" x="990.5" y="101">25.00%</text>
</g>
<g id="row27" transform="translate(0,4195.5)">
<use href="#staff" x="31.5"/>
<use href="#pC" x="31.5"/><use href="#sA" x="271.5"/><use href="#p107" x="511.5"/><use href="#p12" x="751.5"/>
<rect class="sp" x="271.5" width="210" height="60"/>
<text class="tp" x="31" y="-34">♩=166</text><text class="tp" x="271" y="-34">♩=172</text><text class="tp" x="511" y="-34">♩=167</text><text class="tp" x="751" y="-34">♩=168</text>
<text class="mn" x="30.5" y="-8">105</text><text class="mn" x="270.5" y="-8">106</text><text class="mn" x="510.5" y="-8">107</text><text class="mn" x="750.5" y="-8">108</text>
<text class="s1" x="270.5" y="75">216</text><text class="s2" x="270.5" y="88">191088</text><text class="s3" x="270.5" y="101">25.00%</text>
<text class="s1" x="510.5" y="75">252</text><text class="s2" x="510.5" y="88">192096</text><text class="s3" x="510.5" y="101">50.00%</text>
<text class="s1" x="750.5" y="75">216</text><text class="s2" x="750.5" y="88">192960</text><text class="s3" x="750.5" y="101">50.00%</text>
<text class="s1" x="990.5" y="75">144</text><text class="s2" x="990.5" y="88">193536</text><text class="s3" x="990.5" y="101">50.00%</text>
</g>
<g id="row28" transform="translate(0,4348.5)">
<use href="#staff" x="31.5"/>
<use href="#pE" x="31.5"/><use href="#pF" x="271.5"/><use href="#pG" x="511.5"/><use href="#p16" x="751.5"/>
<text class="tp" x="31" y="-34">♩=169</text><text class="tp" x="271" y="-34">♩=169</text><text class="tp" x="511" y="-34">♩=170</text><text class="tp" x="751" y="-34">♩=166</text>
<text class="mn" x="30.5" y="-8">109</text><text class="mn" x="270.5" y="-8">110</text><text class="mn" x="510.5" y="-8">111</text><text class="mn" x="750.5" y="-8">112</text>
<text class="s1" x="270.5" y="75">180</text><text class="s2" x="270.5" y="88">194256</text><text class="s3" x="270.5" y="101">50.00%</text>
<text class="s1" x="510.5" y="75">180</text><text class="s2" x="510.5" y="88">194976</text><text class="s3" x="510.5" y="101">50.00%</text>
<text class="s1" x="750.5" y="75">180</text><text class="s2" x="750.5" y="88">195696</text><text class="s3" x="750.5" y="101">50.00%</text>
<text class="s1" x="990.5" y="75">144</text><text class="s2" x="990.5" y="88">196272</text><text class="s3" x="990.5" y="101">50.00%</text>
</g>
<g id="row29" transform="translate(0,4501.5)">
<use href="#staff" x="31.5"/>
<use href="#sE" x="31.5"/><use href="#pF" x="271.5"/><use href="#pG" x="511.5"/><use href="#pN" x="751.5"/>
<rect class="sp" x="31.5" width="180" height="60"/>
<rect class="so" x="751.5" width="240" height="60"/>
<text class="tp" x="31" y="-34">♩=169</text><text class="tp" x="271" y="-34">♩=169</text><text class="tp" x="511" y="-34">♩=165</text><text class="tp" x="751" y="-34">♩=169</text>
<text class="mn" x="30.5" y="-8">113</text><text class="mn" x="270.5" y="-8">114</text><text class="mn" x="510.5" y="-8">115</text><text class="mn" x="750.5" y="-8">116</text>
<text class="s1" x="270.5" y="75">180</text><text class="s2" x="270.5" y="88">196992</text><text class="s3" x="270.5" y="101">75.00%</text>
<text class="s1" x="510.5" y="75">180</text><text class="s2" x="510.5" y="88">197712</text><text class="s3" x="510.5" y="101">75.00%</text>
<text class="s1" x="750.5" y="75">180</text><text class="s2" x="750.5" y="88">198432</text><text class="s3" x="750.5" y="101">74.98%</text>
<text class="s1" x="990.5" y="75">576</text><text class="s2" x="990.5" y="88">203040</text><text class="s3" x="990.5" y="101">62.48%</text>
</g>
<g id="row30" transform="translate(0,4654.5)">
<use href="#staff" x="31.5"/>
<use href="#pO" x="31.5"/><use href="#pP" x="271.5"/><use href="#pQ" x="511.5"/><use href="#sN" x="751.5"/>
<rect class="sp" x="751.5" width="210" height="60"/>
<rect class="so" x="31.5" width="960" height="60"/>
<text class="tp" x="511" y="-34">♩=169</text><text class="tp" x="751" y="-34">♩=167</text>
<text class="mn" x="30.5" y="-8">117</text><text class="mn" x="270.5" y="-8">118</text><text class="mn" x="510.5" y="-8">119</text><text class="mn" x="750.5" y="-8">120</text>
<text class="s1" x="270.5" y="75">540</text><text class="s2" x="270.5" y="88">207360</text><text class="s3" x="270.5" y="101">49.98%</text>
<text class="s1" x="510.5" y="75">576</text><text class="s2" x="510.5" y="88">211968</text><text class="s3" x="510.5" y="101">37.48%</text>
<text class="s1" x="750.5" y="75">540</text><text class="s2" x="750.5" y="88">216288</text><text class="s3" x="750.5" y="101">24.98%</text>
<text class="s1" x="990.5" y="75">576</text><text class="s2" x="990.5" y="88">220896</text><text class="s3" x="990.5" y="101">37.48%</text>
</g>
<g id="row31" transform="translate(0,4807.5)">
<use href="#staff" x="31.5"/>
<use href="#pO" x="31.5"/><use href="#pP" x="271.5"/><use href="#pQ" x="511.5"/><use href="#pN" x="751.5"/>
<rect class="so" x="31.5" width="720" height="60"/>
<text class="tp" x="31" y="-34">♩=169</text><text class="tp" x="271" y="-34">♩=169</text><text class="tp" x="511" y="-34">♩=169</text><text class="tp" x="751" y="-34">♩=167</text>
<text class="mn" x="30.5" y="-8">121</text><text class="mn" x="270.5" y="-8">122</text><text class="mn" x="510.5" y="-8">123</text><text class="mn" x="750.5" y="-8">124</text>
<text class="s1" x="270.5" y="75">540</text><text class="s2" x="270.5" y="88">225216</text><text class="s3" x="270.5" y="101">24.98%</text>
<text class="s1" x="510.5" y="75">576</text><text class="s2" x="510.5" y="88">229824</text><text class="s3" x="510.5" y="101">12.48%</text>
<text class="s1" x="750.5" y="75">540</text><text class="s2" x="750.5" y="88">234144</text><text class="s3" x="750.5" y="101">0.00%</text>
<text class="s1" x="990.5" y="75">576</text><text class="s2" x="990.5" y="88">236736</text><text class="s3" x="990.5" y="101">0.00%</text>
</g>
<g id="row32" transform="translate(0,4960.5)">
<use href="#staff" x="31.5"/>
<use href="#pO" x="31.5"/><use href="#pP" x="271.5"/><use href="#pQ" x="511.5"/><use href="#pN" x="751.5"/>
<text class="tp" x="31" y="-34">♩=169</text><text class="tp" x="511" y="-34">♩=169</text><text class="tp" x="751" y="-34">♩=167</text>
<text class="mn" x="30.5" y="-8">125</text><text class="mn" x="270.5" y="-8">126</text><text class="mn" x="510.5" y="-8">127</text><text class="mn" x="750.5" y="-8">128</text>
<text class="s1" x="270.5" y="75">540</text><text class="s2" x="270.5" y="88">238896</text><text class="s3" x="270.5" y="101">0.00%</text>
<text class="s1" x="510.5" y="75">576</text><text class="s2" x="510.5" y="88">241200</text><text class="s3" x="510.5" y="101">0.00%</text>
<text class="s1" x="750.5" y="75">540</text><text class="s2" x="750.5" y="88">243360</text><text class="s3" x="750.5" y="101">0.00%</text>
<text class="s1" x="990.5" y="75">576</text><text class="s2" x="990.5" y="88">245664</text><text class="s3" x="990.5" y="101">0.00%</text>
</g>
<g id="row33" transform="translate(0,5113.5)">
<use href="#staff" x="31.5"/>
<use href="#pO" x="31.5"/><use href="#pP" x="271.5"/><use href="#pR" x="511.5"/>
<rect class="su" x="751.5" y="26.5" width="240" height="7"/>
<circle cx="751.5" cy="30" r="5" fill="#ff0" stroke="#000"/>
<text class="tp" x="31" y="-34">♩=168</text><text class="tp" x="511" y="-34">♩=169</text>
<text class="mn" x="30.5" y="-8">129</text><text class="mn" x="270.5" y="-8">130</text><text class="mn" x="510.5" y="-8">131</text><text class="mn" x="750.5" y="-8">132</text>
<text class="s1" x="270.5" y="75">540</text><text class="s2" x="270.5" y="88">247824</text><text class="s3" x="270.5" y="101">0.00%</text>
<text class="s1" x="510.5" y="75">576</text><text class="s2" x="510.5" y="88">250128</text><text class="s3" x="510.5" y="101">0.00%</text>
<text class="s1" x="750.5" y="75">576</text><text class="s2" x="750.5" y="88">252432</text><text class="s3" x="750.5" y="101">0.00%</text>
<text class="s1" x="990.5" y="75">83</text><text class="s2" x="990.5" y="88">252764</text><text class="s3" x="990.5" y="101">0.00%</text>
</g>
<g id="row34" transform="translate(0,5266.5)">
<use href="#staff1" x="31.5"/>
<rect class="su" x="31.5" y="26.5" width="150" height="7"/>
<text class="mn" x="30.5" y="-8">133</text>
<text class="s1" x="270.5" y="75">31</text><text class="s2" x="270.5" y="88">252888</text><text class="s3" x="270.5" y="101">0.00%</text>
</g>
</svg>
